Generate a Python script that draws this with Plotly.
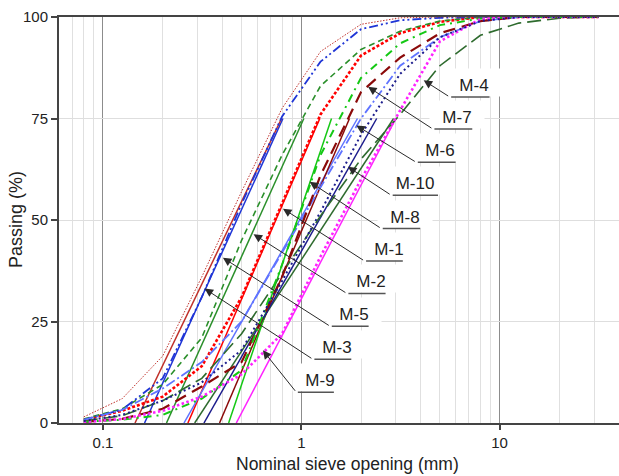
import numpy as np
import plotly.graph_objects as go

# Sieve series (mm)
sieve_mm = [0.08, 0.125, 0.2, 0.315, 0.5, 0.8, 1.25, 2.0, 3.15, 5.0, 8.0, 12.5, 20.0, 31.5]

mixtures = ["M-1", "M-2", "M-3", "M-4", "M-5", "M-6", "M-7", "M-8", "M-9", "M-10"]

# Percent passing at each sieve
m1 = [0.8, 3.0, 6.5, 14, 31, 54, 76, 90.5, 96, 98.8, 100, 100, 100, 100]
m2 = [1.0, 3.5, 9.5, 21, 45, 66, 83, 92, 96.5, 99, 100, 100, 100, 100]
m3 = [0.8, 3.3, 11, 31, 54, 75.5, 89, 97, 99.2, 99.8, 100, 100, 100, 100]
m4 = [0.5, 1.8, 5.5, 11, 22, 37, 51, 65, 76, 88, 95.5, 98.5, 99.7, 100]
m5 = [1.5, 6.0, 16.5, 36, 57, 77.5, 91.5, 98.2, 99.8, 100, 100, 100, 100, 100]
m6 = [0.8, 3.2, 8.5, 15, 25, 42, 58, 75, 88, 95, 99, 100, 100, 100]
m7 = [0.3, 1.0, 3.5, 9, 15, 36, 61, 81.5, 90, 96, 99, 100, 100, 100]
m8 = [0.3, 0.8, 2.0, 6, 13, 39, 66, 85, 93.5, 98, 99.6, 100, 100, 100]
m9 = [0.2, 1.0, 3.0, 6.5, 12, 22, 41, 60, 77, 94, 99.5, 100, 100, 100]
m10 = [0.5, 2.0, 5.5, 10, 18, 35, 52, 71, 86, 95, 99, 100, 100, 100]

passing = {"M-1": m1, "M-2": m2, "M-3": m3, "M-4": m4, "M-5": m5,
           "M-6": m6, "M-7": m7, "M-8": m8, "M-9": m9, "M-10": m10}

# Straight-line fits: sieve size (mm) at 0 % and at 75 % passing
fit_levels = [0, 75]
fit_d0 = {"M-1": 0.268, "M-2": 0.209, "M-3": 0.162, "M-4": 0.290, "M-5": 0.145,
          "M-6": 0.256, "M-7": 0.387, "M-8": 0.430, "M-9": 0.470, "M-10": 0.323}
fit_d75 = {"M-1": 1.24, "M-2": 1.03, "M-3": 0.808, "M-4": 2.92, "M-5": 0.795,
           "M-6": 1.92, "M-7": 1.75, "M-8": 1.42, "M-9": 3.0, "M-10": 2.4}

styles = {
    "M-1": dict(color="#ff0000", dash="3px,2px", width=2.6),
    "M-2": dict(color="#2a8f2a", dash="6px,4px", width=1.6),
    "M-3": dict(color="#1f35d6", dash="9px,3px,2px,3px,2px,3px", width=1.8),
    "M-4": dict(color="#2e6b2e", dash="14px,6px", width=1.6),
    "M-5": dict(color="#c0302a", dash="1.5px,1.5px", width=1.0),
    "M-6": dict(color="#5f73ff", dash="10px,3px,2px,3px", width=1.8),
    "M-7": dict(color="#8b0a0a", dash="12px,7px", width=2.2),
    "M-8": dict(color="#14c814", dash="8px,5px,2px,5px", width=2.0),
    "M-9": dict(color="#ff22ff", dash="2.5px,2.5px", width=2.6),
    "M-10": dict(color="#1c1c8c", dash="2px,3px", width=2.0),
}

# Label callouts: arrow tip, leader end (start of underline), underline end
callouts = [
    ("M-4", 4.14, 84.4, 5.60, 80.3, 8.90),
    ("M-7", 2.17, 82.8, 4.61, 72.4, 7.28),
    ("M-6", 1.894, 73.3, 3.80, 64.2, 6.00),
    ("M-10", 1.718, 63.1, 2.84, 56.1, 4.89),
    ("M-8", 1.101, 59.4, 2.53, 47.9, 3.98),
    ("M-1", 0.808, 52.8, 2.085, 39.9, 3.25),
    ("M-2", 0.5745, 46.5, 1.698, 31.9, 2.66),
    ("M-5", 0.4024, 40.7, 1.40, 23.8, 2.185),
    ("M-3", 0.3253, 33.1, 1.144, 15.7, 1.787),
    ("M-9", 0.640, 17.9, 0.944, 7.56, 1.46),
]

FONT = "Liberation Sans, Arial, sans-serif"

fig = go.Figure()

for name in mixtures:
    st = styles[name]
    fig.add_trace(go.Scatter(
        x=[fit_d0[name], fit_d75[name]], y=fit_levels, mode="lines",
        line=dict(color=st["color"], width=1.5), hoverinfo="skip", showlegend=False))

for name in mixtures:
    st = styles[name]
    fig.add_trace(go.Scatter(
        x=sieve_mm, y=passing[name], mode="lines", name=name,
        line=dict(color=st["color"], dash=st["dash"], width=st["width"]),
        showlegend=False))

annotations = []
lx = np.log10
for name, tx, ty, ax_, ay_, ex in callouts:
    # white label box sitting on the underline
    annotations.append(dict(
        x=lx(ax_), y=ay_, xref="x", yref="y", text=name, showarrow=False,
        xanchor="left", yanchor="bottom", xshift=-4, yshift=0,
        width=52, height=25, align="center", valign="bottom",
        bgcolor="white", borderpad=1,
        font=dict(family=FONT, size=17, color="#222")))
for name, tx, ty, ax_, ay_, ex in callouts:
    # leader with arrowhead
    annotations.append(dict(
        x=lx(tx), y=ty, xref="x", yref="y", ax=lx(ax_), ay=ay_,
        axref="x", ayref="y", text="", showarrow=True, arrowhead=2,
        arrowsize=1.7, arrowwidth=1, arrowcolor="#2a2a2a", standoff=0))
    # underline
    annotations.append(dict(
        x=lx(ex), y=ay_, xref="x", yref="y", ax=lx(ax_), ay=ay_,
        axref="x", ayref="y", text="", showarrow=True, arrowhead=0,
        arrowwidth=1.5, arrowcolor="#555", standoff=0))

# axis titles
annotations.append(dict(
    x=(347 - 59) / 560, y=0, xref="paper", yref="paper", yshift=-29,
    text="Nominal sieve opening (mm)", showarrow=False,
    xanchor="center", yanchor="top",
    font=dict(family=FONT, size=17.5, color="#222")))
annotations.append(dict(
    x=(16 - 59) / 560, y=0.5, xref="paper", yref="paper",
    text="Passing (%)", showarrow=False, textangle=-90,
    xanchor="center", yanchor="middle",
    font=dict(family=FONT, size=18, color="#222")))

fig.update_layout(
    width=619, height=476,
    margin=dict(l=59, r=0, t=17, b=53),
    paper_bgcolor="white", plot_bgcolor="white",
    font=dict(family=FONT, size=15, color="#222"),
    showlegend=False,
    annotations=annotations,
)

fig.update_xaxes(
    type="log", range=[np.log10(0.06), np.log10(40)],
    tickvals=[0.1, 1, 10], ticktext=["0.1", "1", "10"],
    ticks="outside", ticklen=5, tickcolor="#444", tickwidth=1.5,
    showline=True, linecolor="#444", linewidth=2, mirror=True,
    showgrid=True, gridcolor="#8c8c8c", gridwidth=1,
    minor=dict(dtick="D1", showgrid=True, gridcolor="#e0e0e0", gridwidth=1, ticks=""),
    zeroline=False,
    tickfont=dict(size=15),
)

fig.update_yaxes(
    range=[0, 100], tickvals=[0, 25, 50, 75, 100],
    ticks="outside", ticklen=6, tickcolor="#444", tickwidth=1.5,
    showline=True, linecolor="#444", linewidth=2,
    showgrid=True, gridcolor="#dedede", gridwidth=1,
    zeroline=False,
    tickfont=dict(size=15),
)

fig.write_html("out.html")
